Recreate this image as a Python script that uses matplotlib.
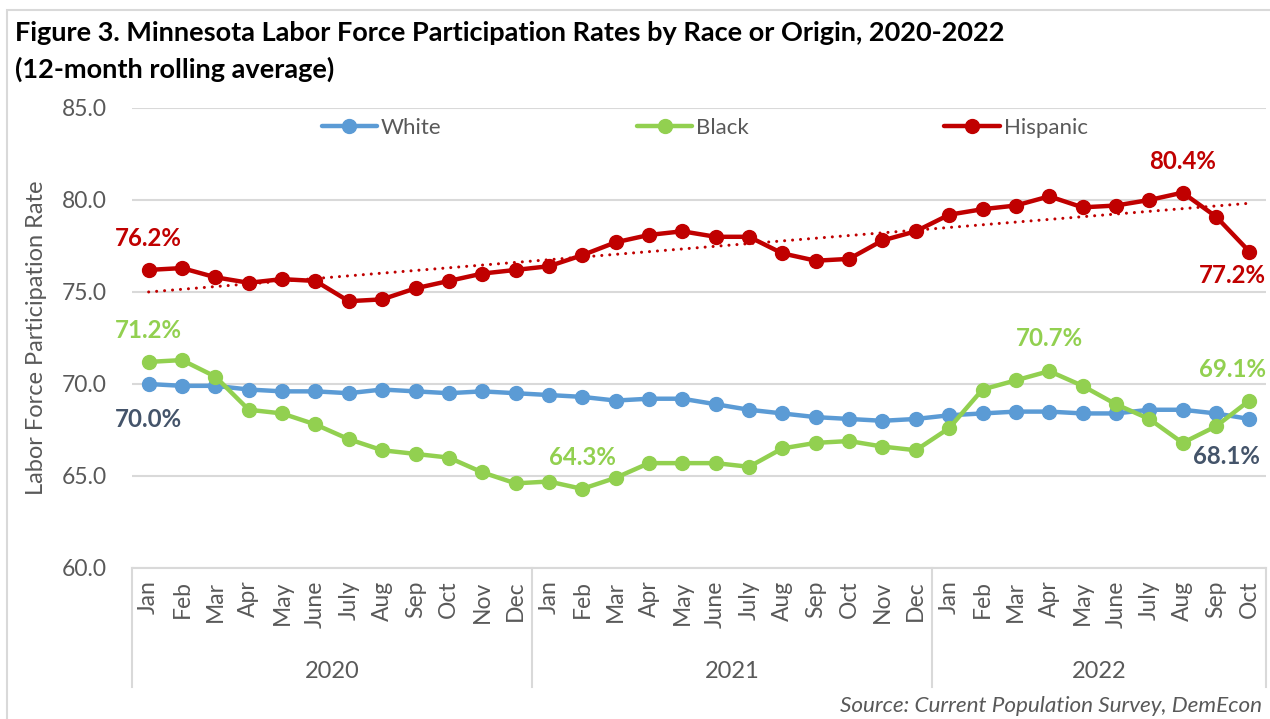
import numpy as np
import matplotlib
matplotlib.use("Agg")
import matplotlib.pyplot as plt
from matplotlib.lines import Line2D
from matplotlib.patches import Rectangle
import matplotlib.transforms as mtransforms

plt.rcParams['font.family'] = ['Lato', 'DejaVu Sans']

months = ["Jan", "Feb", "Mar", "Apr", "May", "June", "July", "Aug", "Sep", "Oct", "Nov", "Dec",
          "Jan", "Feb", "Mar", "Apr", "May", "June", "July", "Aug", "Sep", "Oct", "Nov", "Dec",
          "Jan", "Feb", "Mar", "Apr", "May", "June", "July", "Aug", "Sep", "Oct"]
years = ["2020", "2021", "2022"]
year_counts = [12, 12, 10]

white = [70.0, 69.9, 69.9, 69.7, 69.6, 69.6, 69.5, 69.7, 69.6, 69.5, 69.6, 69.5,
         69.4, 69.3, 69.1, 69.2, 69.2, 68.9, 68.6, 68.4, 68.2, 68.1, 68.0, 68.1,
         68.3, 68.4, 68.5, 68.5, 68.4, 68.4, 68.6, 68.6, 68.4, 68.1]
black = [71.2, 71.3, 70.4, 68.6, 68.4, 67.8, 67.0, 66.4, 66.2, 66.0, 65.2, 64.6,
         64.7, 64.3, 64.9, 65.7, 65.7, 65.7, 65.5, 66.5, 66.8, 66.9, 66.6, 66.4,
         67.6, 69.7, 70.2, 70.7, 69.9, 68.9, 68.1, 66.8, 67.7, 69.1]
hispanic = [76.2, 76.3, 75.8, 75.5, 75.7, 75.6, 74.5, 74.6, 75.2, 75.6, 76.0, 76.2,
            76.4, 77.0, 77.7, 78.1, 78.3, 78.0, 78.0, 77.1, 76.7, 76.8, 77.8, 78.3,
            79.2, 79.5, 79.7, 80.2, 79.6, 79.7, 80.0, 80.4, 79.1, 77.2]

series_names = ["White", "Black", "Hispanic"]
colors = {"White": "#5B9BD5", "Black": "#92D050", "Hispanic": "#C00000"}
label_colors = {"White": "#44546A", "Black": "#92D050", "Hispanic": "#C00000"}
yticks = [60.0, 65.0, 70.0, 75.0, 80.0, 85.0]

# labelled points: (series, index)
labelled = [("Hispanic", 0), ("Hispanic", 31), ("Hispanic", 33),
            ("Black", 0), ("Black", 13), ("Black", 27), ("Black", 33),
            ("White", 0), ("White", 33)]
# label placement offsets (x in categories, y in axis units)
label_offsets = {("Hispanic", 0): (0, 1.7), ("Hispanic", 31): (0, 1.7), ("Hispanic", 33): (-0.5, -1.3),
                 ("Black", 0): (0, 1.7), ("Black", 13): (0, 1.7), ("Black", 27): (0, 1.75),
                 ("Black", 33): (-0.5, 1.7), ("White", 0): (0, -1.95), ("White", 33): (-0.7, -2.05)}

data = {"White": white, "Black": black, "Hispanic": hispanic}

W, H = 1270, 719
fig = plt.figure(figsize=(W / 100, H / 100), dpi=100)
ax = fig.add_axes([132 / W, 1 - 568 / H, (1266 - 132) / W, (568 - 108) / H])

x = np.arange(len(months))
for name in series_names:
    ax.plot(x, data[name], color=colors[name], lw=3.2, marker="o", markersize=10,
            solid_capstyle="round", label=name, zorder=3)

# linear trend for Hispanic
coef = np.polyfit(x, hispanic, 1)
ax.plot(x, np.polyval(coef, x), color="#C00000", lw=2.2, linestyle=(0, (0.01, 2.6)),
        dash_capstyle="round", zorder=4)

ax.set_xlim(-0.5, len(months) - 0.5)
ax.set_ylim(60, 85)
ax.set_yticks(yticks)
ax.set_yticklabels([f"{v:.1f}" for v in yticks])
ax.set_xticks(x)
ax.set_xticklabels(months, rotation=90)
ax.tick_params(axis="y", length=0, pad=18, labelsize=16.5, labelcolor="#595959")
ax.tick_params(axis="x", length=0, pad=9, labelsize=16.5, labelcolor="#595959")
ax.grid(axis="y", color="#D9D9D9", lw=1.5)
ax.set_axisbelow(True)
for s in ["top", "right", "left"]:
    ax.spines[s].set_visible(False)
ax.spines["bottom"].set_color("#D9D9D9")
ax.spines["bottom"].set_linewidth(1.5)

# category group separators and year labels
trans = mtransforms.blended_transform_factory(ax.transData, ax.transAxes)
ybot = (568 - 687) / 460
start = 0
bounds = [-0.5]
for yr, n in zip(years, year_counts):
    center = start + (n - 1) / 2
    ax.text(center, (568 - 671) / 460, yr, transform=trans, ha="center", va="center",
            fontsize=17, color="#595959")
    start += n
    bounds.append(start - 0.5)
for b in bounds:
    ax.add_line(Line2D([b, b], [0, ybot], transform=trans, color="#D9D9D9", lw=1.5, clip_on=False))

# data labels
for name, i in labelled:
    v = data[name][i]
    dx, dy = label_offsets[(name, i)]
    ax.text(i + dx, v + dy, f"{v:.1f}%", ha="center", va="center", fontsize=17.3,
            fontweight="bold", color=label_colors[name], zorder=5, clip_on=False)

leg = ax.legend(loc="center", bbox_to_anchor=(0.505, 0.9565), ncol=3, frameon=False,
                fontsize=16, handlelength=2.48, handletextpad=0.18, columnspacing=8.8,
                labelcolor="#595959")

fig.text(37 / W, 1 - 338 / H, "Labor Force Participation Rate", rotation=90, ha="center",
         va="center", fontsize=17, color="#595959")

fig.text(15 / W, 1 - 33 / H, "Figure 3. Minnesota Labor Force Participation Rates by Race or Origin, 2020-2022",
         ha="left", va="center", fontsize=19.5, fontweight="bold", color="black")
fig.text(15 / W, 1 - 69 / H, "(12-month rolling average)", ha="left", va="center",
         fontsize=19.5, fontweight="bold", color="black")

fig.text(1262 / W, 1 - 706 / H, "Source: Current Population Survey, DemEcon", ha="right",
         va="center", fontsize=16.2, style="italic", color="#595959")

# chart border (left and top visible)
fig.patches.append(Rectangle((7 / W, -0.1), 1.2, 1 - 10 / H + 0.1, transform=fig.transFigure,
                             fill=False, edgecolor="#D9D9D9", lw=1.5))

fig.savefig("out.png", dpi=100)
